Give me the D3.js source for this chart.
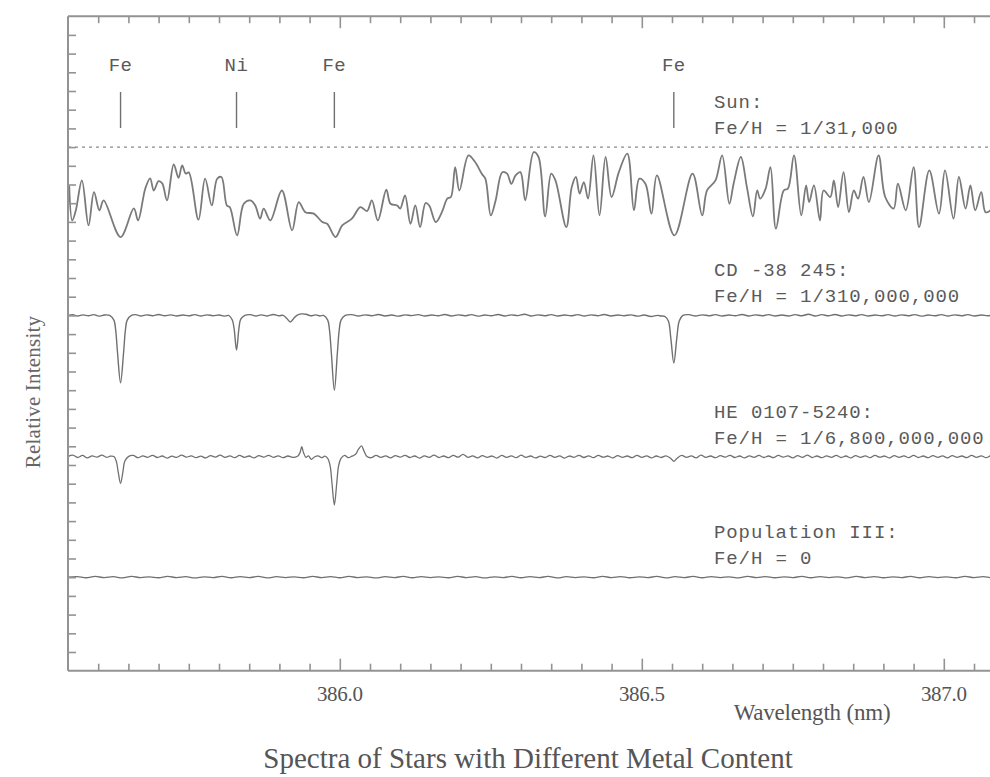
<!DOCTYPE html>
<html><head><meta charset="utf-8">
<script src="https://cdn.jsdelivr.net/npm/d3@7"></script>
<style>body{margin:0;background:#fff} svg{display:block}</style>
</head><body><svg id="c" width="990" height="777"></svg>
<script>
// ---- data: [wavelength nm, normalized flux] ----
const sunSpectrum = [[385.552,0.795],[385.557,0.608],[385.563,0.662],[385.573,0.822],[385.584,0.581],[385.593,0.759],[385.602,0.662],[385.609,0.715],[385.637,0.519],[385.659,0.672],[385.666,0.608],[385.678,0.779],[385.686,0.833],[385.692,0.768],[385.700,0.818],[385.706,0.806],[385.714,0.715],[385.725,0.907],[385.733,0.836],[385.739,0.902],[385.745,0.858],[385.750,0.865],[385.766,0.612],[385.777,0.831],[385.788,0.688],[385.797,0.831],[385.804,0.840],[385.813,0.688],[385.818,0.678],[385.830,0.528],[385.841,0.697],[385.852,0.715],[385.860,0.688],[385.868,0.617],[385.874,0.671],[385.885,0.608],[385.904,0.768],[385.921,0.555],[385.932,0.706],[385.943,0.652],[385.957,0.644],[385.971,0.599],[385.979,0.590],[385.993,0.519],[386.004,0.581],[386.020,0.617],[386.034,0.679],[386.045,0.658],[386.053,0.715],[386.063,0.608],[386.077,0.772],[386.084,0.697],[386.095,0.688],[386.100,0.671],[386.108,0.742],[386.117,0.590],[386.125,0.688],[386.133,0.572],[386.142,0.701],[386.148,0.688],[386.159,0.599],[386.169,0.652],[386.178,0.724],[386.184,0.733],[386.191,0.893],[386.198,0.768],[386.213,0.956],[386.224,0.920],[386.235,0.858],[386.241,0.831],[386.250,0.635],[386.258,0.715],[386.269,0.866],[386.277,0.858],[386.284,0.804],[386.291,0.849],[386.299,0.866],[386.307,0.715],[386.321,0.973],[386.329,0.947],[386.340,0.629],[386.350,0.858],[386.357,0.822],[386.375,0.572],[386.384,0.786],[386.391,0.840],[386.397,0.751],[386.404,0.813],[386.411,0.724],[386.420,0.956],[386.430,0.635],[386.440,0.947],[386.450,0.733],[386.462,0.866],[386.476,0.965],[386.487,0.662],[386.496,0.831],[386.506,0.804],[386.516,0.644],[386.525,0.849],[386.554,0.528],[386.584,0.858],[386.600,0.635],[386.608,0.768],[386.622,0.822],[386.633,0.956],[386.645,0.697],[386.652,0.804],[386.664,0.947],[386.674,0.786],[386.684,0.629],[386.691,0.768],[386.696,0.724],[386.705,0.778],[386.713,0.893],[386.722,0.564],[386.735,0.768],[386.742,0.779],[386.752,0.956],[386.764,0.635],[386.772,0.795],[386.777,0.706],[386.785,0.795],[386.795,0.608],[386.801,0.768],[386.812,0.733],[386.818,0.822],[386.825,0.679],[386.834,0.866],[386.843,0.652],[386.851,0.768],[386.858,0.724],[386.867,0.840],[386.876,0.706],[386.892,0.956],[386.903,0.733],[386.917,0.671],[386.924,0.804],[386.937,0.662],[386.950,0.893],[386.959,0.572],[386.976,0.875],[386.992,0.644],[387.002,0.875],[387.016,0.617],[387.025,0.840],[387.036,0.671],[387.044,0.795],[387.052,0.662],[387.062,0.759],[387.069,0.652],[387.077,0.662],[387.086,0.715],[387.100,0.688]];

const cdSpectrum = [[385.550,1.000],[385.558,1.004],[385.566,0.997],[385.575,1.003],[385.584,0.998],[385.593,1.004],[385.601,0.996],[385.610,1.002],[385.619,1.000],[385.626,0.975],[385.629,0.92],[385.632,0.80],[385.637,0.64],[385.642,0.80],[385.645,0.92],[385.648,0.975],[385.655,1.000],[385.662,1.004],[385.671,0.997],[385.680,1.003],[385.690,0.998],[385.700,1.005],[385.710,0.998],[385.720,1.003],[385.730,0.997],[385.740,1.002],[385.750,0.998],[385.760,1.004],[385.770,0.997],[385.780,1.003],[385.790,0.998],[385.800,1.002],[385.810,0.996],[385.816,1.000],[385.822,0.975],[385.825,0.93],[385.829,0.815],[385.833,0.93],[385.836,0.98],[385.843,1.000],[385.852,1.004],[385.861,0.997],[385.870,1.003],[385.880,0.997],[385.890,1.005],[385.899,0.998],[385.906,1.000],[385.912,0.985],[385.918,0.965],[385.924,0.985],[385.929,1.000],[385.936,1.008],[385.944,1.006],[385.952,0.998],[385.960,1.003],[385.967,0.997],[385.973,1.000],[385.980,0.975],[385.983,0.92],[385.986,0.80],[385.991,0.60],[385.996,0.80],[385.999,0.92],[386.002,0.975],[386.009,1.000],[386.020,1.004],[386.031,0.997],[386.042,1.003],[386.053,0.998],[386.064,1.005],[386.075,0.997],[386.086,1.002],[386.097,0.996],[386.108,1.003],[386.119,0.999],[386.130,1.004],[386.141,0.997],[386.152,1.002],[386.163,0.998],[386.174,1.005],[386.185,0.997],[386.196,1.003],[386.207,0.998],[386.218,1.004],[386.229,0.996],[386.240,1.002],[386.251,0.998],[386.262,1.005],[386.273,0.997],[386.284,1.003],[386.295,0.999],[386.306,1.006],[386.317,0.997],[386.328,1.003],[386.339,0.998],[386.350,1.004],[386.361,0.997],[386.372,1.002],[386.383,0.998],[386.394,1.004],[386.405,0.997],[386.416,1.003],[386.427,0.998],[386.438,1.005],[386.449,0.997],[386.460,1.002],[386.471,0.998],[386.482,1.003],[386.493,0.996],[386.504,1.002],[386.515,0.994],[386.526,1.000],[386.532,0.997],[386.538,0.995],[386.544,0.97],[386.548,0.88],[386.553,0.745],[386.558,0.88],[386.562,0.97],[386.568,1.000],[386.578,1.004],[386.589,0.997],[386.600,1.003],[386.611,0.998],[386.622,1.004],[386.633,0.997],[386.644,1.002],[386.655,0.998],[386.666,1.005],[386.677,0.997],[386.688,1.003],[386.699,0.998],[386.710,1.004],[386.721,0.997],[386.732,1.002],[386.743,0.997],[386.754,1.004],[386.765,0.998],[386.776,1.006],[386.787,0.997],[386.798,1.004],[386.809,0.998],[386.820,1.005],[386.831,0.997],[386.842,1.003],[386.853,0.998],[386.864,1.004],[386.875,0.997],[386.886,1.002],[386.897,0.998],[386.908,1.004],[386.919,0.997],[386.930,1.003],[386.941,0.998],[386.952,1.004],[386.963,0.996],[386.974,1.002],[386.985,0.998],[386.996,1.004],[387.007,0.997],[387.018,1.003],[387.029,0.998],[387.040,1.004],[387.051,0.997],[387.062,1.002],[387.073,0.998],[387.084,1.003],[387.100,0.999]];

const heSpectrum = [[385.550,1.000],[385.558,1.008],[385.566,0.995],[385.574,1.006],[385.582,0.993],[385.590,1.004],[385.598,0.997],[385.606,1.008],[385.614,0.996],[385.620,1.002],[385.626,1.000],[385.630,0.975],[385.633,0.92],[385.637,0.857],[385.641,0.92],[385.644,0.975],[385.650,1.000],[385.658,1.006],[385.666,0.994],[385.674,1.004],[385.682,0.996],[385.690,1.007],[385.698,0.995],[385.706,1.003],[385.714,0.992],[385.722,1.002],[385.730,0.996],[385.738,1.008],[385.746,0.997],[385.754,1.004],[385.762,0.994],[385.770,1.002],[385.778,0.993],[385.786,1.005],[385.794,0.997],[385.802,1.008],[385.810,0.996],[385.818,1.004],[385.826,0.994],[385.834,1.006],[385.842,0.996],[385.850,1.003],[385.858,0.993],[385.866,1.005],[385.874,0.997],[385.882,1.007],[385.890,0.996],[385.898,1.004],[385.906,0.994],[385.914,1.003],[385.922,0.996],[385.930,1.002],[385.934,1.02],[385.937,1.053],[385.940,1.02],[385.944,0.996],[385.948,1.004],[385.953,0.985],[385.958,0.998],[385.964,1.004],[385.970,0.994],[385.975,1.002],[385.980,0.99],[385.984,0.95],[385.987,0.86],[385.991,0.741],[385.995,0.86],[385.998,0.95],[386.002,0.99],[386.008,1.006],[386.014,0.994],[386.020,1.002],[386.026,1.012],[386.031,1.04],[386.036,1.057],[386.040,1.03],[386.045,1.000],[386.052,0.994],[386.060,1.006],[386.068,0.996],[386.076,1.004],[386.084,0.993],[386.092,1.005],[386.100,0.997],[386.108,1.007],[386.116,0.995],[386.124,1.003],[386.132,0.992],[386.140,1.004],[386.148,0.996],[386.156,1.008],[386.164,0.995],[386.172,1.003],[386.180,0.994],[386.188,1.006],[386.196,0.997],[386.204,1.012],[386.212,0.996],[386.220,1.004],[386.228,0.993],[386.236,1.005],[386.244,0.996],[386.252,1.003],[386.260,0.992],[386.268,1.006],[386.276,0.996],[386.284,1.004],[386.292,0.994],[386.300,1.008],[386.308,0.996],[386.316,1.003],[386.324,0.993],[386.332,1.002],[386.340,0.995],[386.348,1.006],[386.356,0.996],[386.364,1.004],[386.372,0.992],[386.380,1.003],[386.388,0.996],[386.396,1.007],[386.404,0.995],[386.412,1.004],[386.420,0.994],[386.428,1.006],[386.436,0.997],[386.444,1.003],[386.452,0.993],[386.460,1.005],[386.468,0.996],[386.476,1.003],[386.484,0.994],[386.492,1.006],[386.500,0.996],[386.508,1.004],[386.516,0.993],[386.524,1.003],[386.532,0.995],[386.540,1.004],[386.548,0.99],[386.553,0.975],[386.558,0.99],[386.566,1.006],[386.574,0.996],[386.582,1.004],[386.590,0.993],[386.598,1.008],[386.606,0.996],[386.614,1.003],[386.622,0.994],[386.630,1.005],[386.638,0.997],[386.646,1.007],[386.654,0.995],[386.662,1.003],[386.670,0.993],[386.678,1.004],[386.686,0.996],[386.694,1.006],[386.702,0.995],[386.710,1.003],[386.718,0.994],[386.726,1.006],[386.734,0.997],[386.742,1.004],[386.750,0.993],[386.758,1.005],[386.766,0.996],[386.774,1.008],[386.782,0.995],[386.790,1.003],[386.798,0.994],[386.806,1.004],[386.814,0.996],[386.822,1.006],[386.830,0.995],[386.838,1.003],[386.846,0.993],[386.854,1.005],[386.862,0.996],[386.870,1.004],[386.878,0.994],[386.886,1.006],[386.894,0.997],[386.902,1.003],[386.910,0.993],[386.918,1.005],[386.926,0.996],[386.934,1.004],[386.942,0.994],[386.950,1.006],[386.958,0.995],[386.966,1.003],[386.974,0.994],[386.982,1.005],[386.990,0.996],[386.998,1.004],[387.006,0.993],[387.014,1.005],[387.022,0.996],[387.030,1.003],[387.038,0.994],[387.046,1.006],[387.054,0.996],[387.062,1.004],[387.070,0.994],[387.078,1.004],[387.086,0.997],[387.100,1.002]];

const pop3Spectrum = [[385.550,1.000],[385.565,1.003],[385.580,0.997],[385.595,1.004],[385.610,0.998],[385.625,1.003],[385.640,0.996],[385.655,1.004],[385.670,0.998],[385.685,1.002],[385.700,0.997],[385.715,1.004],[385.730,0.998],[385.745,1.003],[385.760,0.996],[385.775,1.002],[385.790,0.998],[385.805,1.004],[385.820,0.997],[385.835,1.003],[385.850,0.998],[385.865,1.004],[385.880,0.996],[385.895,1.003],[385.910,0.998],[385.925,1.002],[385.940,0.997],[385.955,1.004],[385.970,0.998],[385.985,1.003],[386.000,0.997],[386.015,1.004],[386.030,0.998],[386.045,1.002],[386.060,0.996],[386.075,1.003],[386.090,0.998],[386.105,1.004],[386.120,0.997],[386.135,1.003],[386.150,0.998],[386.165,1.002],[386.180,0.997],[386.195,1.004],[386.210,0.998],[386.225,1.003],[386.240,0.996],[386.255,1.002],[386.270,0.998],[386.285,1.004],[386.300,0.997],[386.315,1.003],[386.330,0.998],[386.345,1.004],[386.360,0.996],[386.375,1.003],[386.390,0.998],[386.405,1.002],[386.420,0.997],[386.435,1.004],[386.450,0.998],[386.465,1.003],[386.480,0.997],[386.495,1.002],[386.510,0.998],[386.525,1.004],[386.540,0.996],[386.555,1.003],[386.570,0.998],[386.585,1.004],[386.600,0.997],[386.615,1.003],[386.630,0.998],[386.645,1.002],[386.660,0.996],[386.675,1.004],[386.690,0.998],[386.705,1.003],[386.720,0.997],[386.735,1.002],[386.750,0.998],[386.765,1.004],[386.780,0.997],[386.795,1.003],[386.810,0.998],[386.825,1.002],[386.840,0.996],[386.855,1.004],[386.870,0.998],[386.885,1.003],[386.900,0.997],[386.915,1.002],[386.930,0.998],[386.945,1.004],[386.960,0.997],[386.975,1.003],[386.990,0.998],[387.005,1.002],[387.020,0.997],[387.035,1.004],[387.050,0.998],[387.065,1.003],[387.080,0.997],[387.100,1.001]];

const continuumLevels = [2.8, 1.9, 1.145, 0.5];
const starNames = ["Sun:", "CD -38 245:", "HE 0107-5240:", "Population III:"];
const abundances = ["Fe/H = 1/31,000", "Fe/H = 1/310,000,000", "Fe/H = 1/6,800,000,000", "Fe/H = 0"];
const lineIds = ["Fe", "Ni", "Fe", "Fe"];
const lineWavelengths = [385.637, 385.829, 385.991, 386.553];
const xMajorTicks = [386.0, 386.5, 387.0];
const xTickLabels = ["386.0", "386.5", "387.0"];
const titleText = "Spectra of Stars with Different Metal Content";
const xAxisTitle = "Wavelength (nm)";
const yAxisTitle = "Relative Intensity";

// ---- layout ----
const svg = d3.select("#c");
const L = 68, T = 16.2, B = 670.7, R = 1004.2;
const x = d3.scaleLinear().domain([385.55, 387.10]).range([L, R]);
const y = d3.scaleLinear().domain([0, 3.5]).range([B, T]);
const axisCol = "#939393";
const lineCol = "#707070";
const textCol = "#5a5a5a";

svg.append("defs").append("clipPath").attr("id", "clip")
  .append("rect").attr("x", L).attr("y", T).attr("width", R - L).attr("height", B - T);

const spectra = [sunSpectrum, cdSpectrum, heSpectrum, pop3Spectrum];
const widths = [1.8, 1.4, 1.3, 1.3];
const cols = ["#7a7a7a", lineCol, lineCol, lineCol];
const g = svg.append("g").attr("clip-path", "url(#clip)");

// dotted continuum for the Sun
g.append("line").attr("x1", L).attr("x2", R)
  .attr("y1", y(continuumLevels[0])).attr("y2", y(continuumLevels[0]))
  .attr("stroke", "#8a8a8a").attr("stroke-width", 1.2).attr("stroke-dasharray", "3,4");

spectra.forEach((s, i) => {
  const line = d3.line()
    .x(d => x(d[0]))
    .y(d => y(continuumLevels[i] + d[1] - 1))
    .curve(d3.curveCatmullRom.alpha(0.5));
  g.append("path").datum(s).attr("d", line)
    .attr("fill", "none").attr("stroke", cols[i])
    .attr("stroke-width", widths[i]).attr("stroke-linejoin", "round");
});

// axes
const minorTicks = d3.range(385.6, 387.1, 0.05).filter(v => !xMajorTicks.some(m => Math.abs(m - v) < 1e-6));
const yTicks = d3.range(1, 35).map(k => k / 10);

function styleAxis(sel) {
  sel.select(".domain").remove();
  sel.selectAll("line").attr("stroke", axisCol).attr("stroke-width", 1.6);
  sel.selectAll("text").remove();
}
svg.append("g").attr("transform", `translate(0,${B})`)
  .call(d3.axisBottom(x).tickValues(minorTicks).tickSize(-7)).call(styleAxis);
svg.append("g").attr("transform", `translate(0,${B})`)
  .call(d3.axisBottom(x).tickValues(xMajorTicks).tickSize(-12)).call(styleAxis);
svg.append("g").attr("transform", `translate(0,${T})`)
  .call(d3.axisTop(x).tickValues(minorTicks).tickSize(-7)).call(styleAxis);
svg.append("g").attr("transform", `translate(0,${T})`)
  .call(d3.axisTop(x).tickValues(xMajorTicks).tickSize(-12)).call(styleAxis);
svg.append("g").attr("transform", `translate(${L},0)`)
  .call(d3.axisLeft(y).tickValues(yTicks).tickSize(-8)).call(styleAxis);

// frame lines
svg.append("line").attr("x1", L).attr("x2", R).attr("y1", T).attr("y2", T).attr("stroke", axisCol).attr("stroke-width", 2);
svg.append("line").attr("x1", L).attr("x2", R).attr("y1", B).attr("y2", B).attr("stroke", axisCol).attr("stroke-width", 2);
svg.append("line").attr("x1", L).attr("x2", L).attr("y1", T).attr("y2", B).attr("stroke", axisCol).attr("stroke-width", 2);

// x tick labels
const serif = "Liberation Serif, serif";
svg.selectAll("text.xl").data(xMajorTicks).enter().append("text")
  .attr("x", d => x(d)).attr("y", B + 30).attr("text-anchor", "middle")
  .attr("font-family", serif).attr("font-size", 21)
  .attr("fill", "#555").attr("letter-spacing", -0.3)
  .text((d, i) => xTickLabels[i]);

svg.append("text").attr("x", 812).attr("y", 720).attr("text-anchor", "middle")
  .attr("font-family", serif).attr("font-size", 23).attr("fill", "#555")
  .attr("letter-spacing", -0.2).text(xAxisTitle);

svg.append("text").attr("transform", `translate(40,392) rotate(-90)`).attr("text-anchor", "middle")
  .attr("font-family", serif).attr("font-size", 21).attr("fill", "#666")
  .attr("letter-spacing", 0.2).text(yAxisTitle);

svg.append("text").attr("x", 528).attr("y", 768).attr("text-anchor", "middle")
  .attr("font-family", serif).attr("font-size", 29).attr("fill", "#555")
  .text(titleText);

// line identifications
const mono = "Liberation Mono, DejaVu Sans Mono, monospace";
lineWavelengths.forEach((w, i) => {
  svg.append("line").attr("x1", x(w)).attr("x2", x(w)).attr("y1", 92).attr("y2", 128)
    .attr("stroke", lineCol).attr("stroke-width", 1.4);
  svg.append("text").attr("x", x(w)).attr("y", 71).attr("text-anchor", "middle")
    .attr("font-family", mono).attr("font-size", 19).attr("fill", textCol).attr("letter-spacing", 0.5)
    .text(lineIds[i]);
});

// star labels
continuumLevels.forEach((c, i) => {
  svg.append("text").attr("x", 714).attr("y", y(c) - 39)
    .attr("font-family", mono).attr("font-size", 19).attr("fill", textCol).attr("letter-spacing", 0.9)
    .text(starNames[i]);
  svg.append("text").attr("x", 714).attr("y", y(c) - 13)
    .attr("font-family", mono).attr("font-size", 19).attr("fill", textCol).attr("letter-spacing", 0.9)
    .text(abundances[i]);
});
</script></body></html>
